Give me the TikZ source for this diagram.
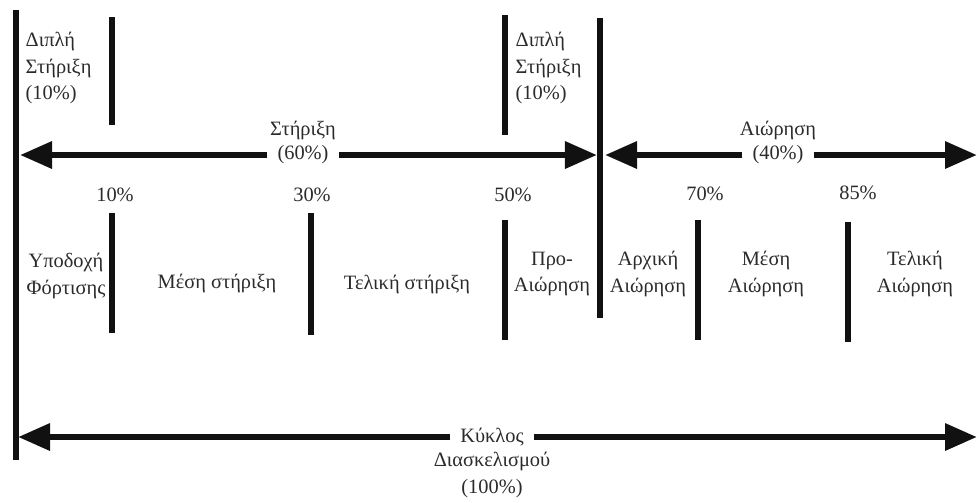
\documentclass[tikz,border=0pt]{standalone}
\usepackage{fontspec}
\setmainfont{Liberation Serif}
\usepackage{xcolor}
\usepackage{tikz}
\usetikzlibrary{arrows.meta,positioning}
\definecolor{gaitink}{HTML}{111111}
\definecolor{gaittext}{HTML}{2b2b2b}

\begin{document}
\begin{tikzpicture}[x=0.025cm,y=-0.025cm,
  bar/.style={gaitink,line width=4pt},
  span/.style={gaitink,line width=4.5pt,-{Triangle[length=8mm,width=6.5mm]}},
  lbl/.style={text=gaittext,font=\fontsize{14.5}{19}\selectfont,align=center,inner sep=1pt},
  gap/.style={lbl,fill=white,inner xsep=7pt,inner ysep=2pt}]
  \useasboundingbox (0,0) rectangle (979,502);
  % phase boundaries
  \draw[bar] (16,10) -- (16,460);
  \draw[bar] (112,17) -- (112,125);
  \draw[bar] (505,15) -- (505,135);
  \draw[bar] (600,18) -- (600,318);
  \draw[bar] (112,213) -- (112,333);
  \draw[bar] (311,213) -- (311,335);
  \draw[bar] (505,220) -- (505,340);
  \draw[bar] (698,220) -- (698,340);
  \draw[bar] (848,222) -- (848,342);
  % double support
  \node[lbl,align=left,anchor=west] (ds1) at (24,68) {Διπλή\\Στήριξη\\(10\%)};
  \node[lbl,align=left,anchor=west] (ds2) at (514,68) {Διπλή\\Στήριξη\\(10\%)};
  % stance / swing spans
  \coordinate (stL) at (20,155);
  \coordinate (stR) at (597,155);
  \coordinate (swL) at (605,155);
  \coordinate (swR) at (977,155);
  \node[gap] (st60) at (303,155) {(60\%)};
  \node[lbl,above=1pt of st60] (st) {Στήριξη};
  \node[gap] (sw40) at (778,155) {(40\%)};
  \node[lbl,above=1pt of sw40] (sw) {Αιώρηση};
  \draw[span] (st60.west) -- (stL);
  \draw[span] (st60.east) -- (stR);
  \draw[span] (sw40.west) -- (swL);
  \draw[span] (sw40.east) -- (swR);
  % percentages
  \node[lbl] (p10) at (115,195) {10\%};
  \node[lbl] (p30) at (312,195) {30\%};
  \node[lbl] (p50) at (513,195) {50\%};
  \node[lbl] (p70) at (705,194) {70\%};
  \node[lbl] (p85) at (858,193) {85\%};
  % phases
  \node[lbl] (ldg) at (66,276) {Υποδοχή\\Φόρτισης};
  \node[lbl] (mst) at (217,283) {Μέση στήριξη};
  \node[lbl] (tst) at (407,284) {Τελική στήριξη};
  \node[lbl] (psw) at (552,274) {Προ-\\Αιώρηση};
  \node[lbl] (isw) at (648,274) {Αρχική\\Αιώρηση};
  \node[lbl] (msw) at (766,274) {Μέση\\Αιώρηση};
  \node[lbl] (tsw) at (915,274) {Τελική\\Αιώρηση};
  % gait cycle
  \coordinate (cyL) at (18,437);
  \coordinate (cyR) at (977,437);
  \node[gap] (cyc) at (492,437) {Κύκλος};
  \node[lbl,below=1pt of cyc] (cycb) {Διασκελισμού\\(100\%)};
  \draw[span] (cyc.west) -- (cyL);
  \draw[span] (cyc.east) -- (cyR);
\end{tikzpicture}
\end{document}
